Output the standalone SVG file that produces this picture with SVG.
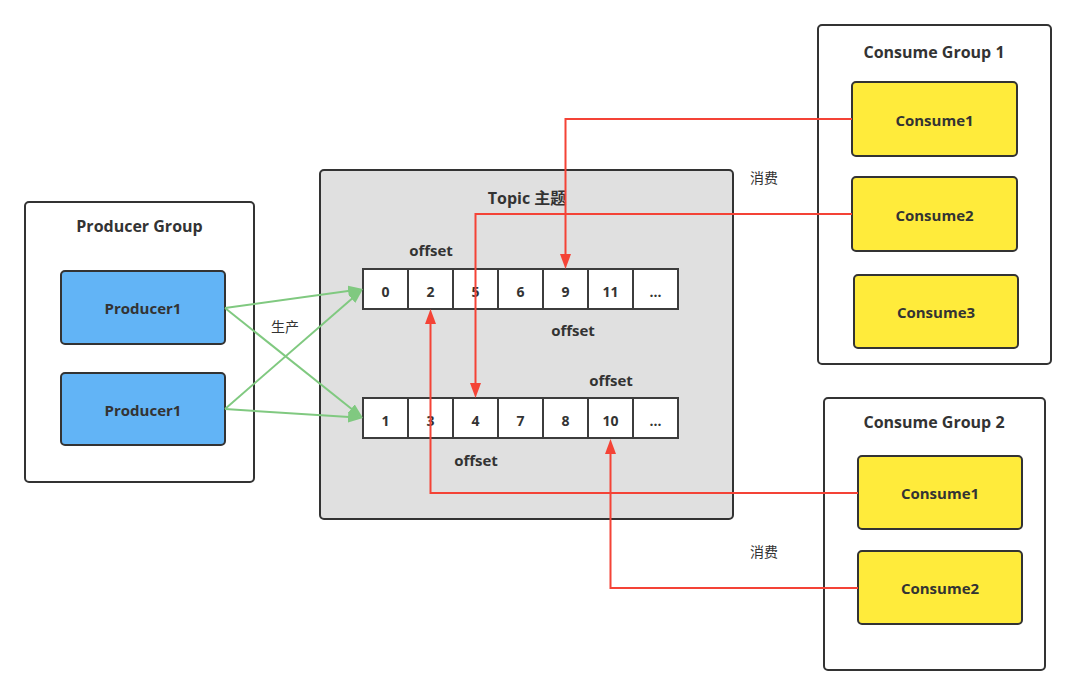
<svg xmlns="http://www.w3.org/2000/svg" width="1074" height="695" viewBox="0 0 1074 695">
<defs>
<style>
.box{stroke:#333;stroke-width:2}
.grp{fill:#fff}
.prod{fill:#62b4f6}
.cons{fill:#ffeb3b}
.topic{fill:#e0e0e0}
.cell{fill:#fff;stroke:#3c3c3c;stroke-width:2}
text{font-family:"Open Sans","Noto Sans","Noto Sans CJK SC",sans-serif;fill:#333;text-anchor:middle;dominant-baseline:central}
.t16{font-size:16px;font-weight:bold}
.t14{font-size:15px;font-weight:bold}
.t13{font-size:14px;font-weight:bold}
.cn{font-family:"Noto Sans CJK SC",sans-serif;font-size:14px}
.g{stroke:#80c980;stroke-width:2;fill:none}
.r{stroke:#f44336;stroke-width:2;fill:none}
</style>
<marker id="ag" markerUnits="userSpaceOnUse" markerWidth="16" markerHeight="12" refX="9" refY="5.5" orient="auto"><path d="M0,0 L15,5.5 L0,11 z" fill="#80c980"/></marker>
<marker id="ar" markerUnits="userSpaceOnUse" markerWidth="16" markerHeight="12" refX="9" refY="5.5" orient="auto"><path d="M0,0 L15,5.5 L0,11 z" fill="#f44336"/></marker>
</defs>
<rect width="1074" height="695" fill="#fff"/>

<g id="producer-group">
<rect class="box grp" x="25" y="202" width="229" height="280" rx="4"/>
<text class="t16" x="139.5" y="226">Producer Group</text>
</g>
<g id="producer1a">
<rect class="box prod" x="61" y="271" width="164" height="73" rx="4"/>
<text class="t14" x="143" y="308">Producer1</text>
</g>
<g id="producer1b">
<rect class="box prod" x="61" y="373" width="164" height="72" rx="4"/>
<text class="t14" x="143" y="410">Producer1</text>
</g>

<g id="topic">
<rect class="box topic" x="320" y="170" width="413" height="349" rx="4"/>
<text class="t16" x="527" y="198">Topic 主题</text>
</g>
<g id="queue1">
<rect class="cell" x="363" y="269" width="45" height="40"/>
<rect class="cell" x="408" y="269" width="45" height="40"/>
<rect class="cell" x="453" y="269" width="45" height="40"/>
<rect class="cell" x="498" y="269" width="45" height="40"/>
<rect class="cell" x="543" y="269" width="45" height="40"/>
<rect class="cell" x="588" y="269" width="45" height="40"/>
<rect class="cell" x="633" y="269" width="45" height="40"/>
<text class="t13" x="385.5" y="291">0</text>
<text class="t13" x="430.5" y="291">2</text>
<text class="t13" x="475.5" y="291">5</text>
<text class="t13" x="520.5" y="291">6</text>
<text class="t13" x="565.5" y="291">9</text>
<text class="t13" x="610.5" y="291">11</text>
<text class="t13" x="655.5" y="291">...</text>
</g>
<g id="queue2">
<rect class="cell" x="363" y="398" width="45" height="40"/>
<rect class="cell" x="408" y="398" width="45" height="40"/>
<rect class="cell" x="453" y="398" width="45" height="40"/>
<rect class="cell" x="498" y="398" width="45" height="40"/>
<rect class="cell" x="543" y="398" width="45" height="40"/>
<rect class="cell" x="588" y="398" width="45" height="40"/>
<rect class="cell" x="633" y="398" width="45" height="40"/>
<text class="t13" x="385.5" y="420">1</text>
<text class="t13" x="430.5" y="420">3</text>
<text class="t13" x="475.5" y="420">4</text>
<text class="t13" x="520.5" y="420">7</text>
<text class="t13" x="565.5" y="420">8</text>
<text class="t13" x="610.5" y="420">10</text>
<text class="t13" x="655.5" y="420">...</text>
</g>
<g id="offset-labels">
<text class="t14" x="431" y="250">offset</text>
<text class="t14" x="573" y="330">offset</text>
<text class="t14" x="611" y="380">offset</text>
<text class="t14" x="476" y="460">offset</text>
</g>

<g id="consume-group-1">
<rect class="box grp" x="818" y="25" width="233" height="339" rx="4"/>
<text class="t16" x="934" y="52">Consume Group 1</text>
</g>
<g id="g1-consume1">
<rect class="box cons" x="852" y="82" width="165" height="74" rx="4"/>
<text class="t14" x="934.5" y="120">Consume1</text>
</g>
<g id="g1-consume2">
<rect class="box cons" x="852" y="177" width="165" height="74" rx="4"/>
<text class="t14" x="934.5" y="215">Consume2</text>
</g>
<g id="g1-consume3">
<rect class="box cons" x="854" y="275" width="164" height="73" rx="4"/>
<text class="t14" x="936" y="312">Consume3</text>
</g>

<g id="consume-group-2">
<rect class="box grp" x="824" y="398" width="221" height="272" rx="4"/>
<text class="t16" x="934" y="422">Consume Group 2</text>
</g>
<g id="g2-consume1">
<rect class="box cons" x="858" y="456" width="164" height="73" rx="4"/>
<text class="t14" x="940" y="493">Consume1</text>
</g>
<g id="g2-consume2">
<rect class="box cons" x="858" y="551" width="164" height="73" rx="4"/>
<text class="t14" x="940" y="588">Consume2</text>
</g>

<g id="connectors">
<path class="g" d="M225,308 L357.06,289.82" marker-end="url(#ag)"/>
<path class="g" d="M225,308 L358.31,414.26" marker-end="url(#ag)"/>
<path class="g" d="M225,409 L358.47,292.94" marker-end="url(#ag)"/>
<path class="g" d="M225,409 L357.01,417.61" marker-end="url(#ag)"/>
<path class="r" d="M852,119 H565.5 V263" marker-end="url(#ar)"/>
<path class="r" d="M852,214 H475.5 V392" marker-end="url(#ar)"/>
<path class="r" d="M858,493 H430.5 V315" marker-end="url(#ar)"/>
<path class="r" d="M858,588 H610.5 V445" marker-end="url(#ar)"/>
<text class="cn" x="285" y="326">生产</text>
<text class="cn" x="764" y="177">消费</text>
<text class="cn" x="764" y="551">消费</text>
</g>
</svg>
